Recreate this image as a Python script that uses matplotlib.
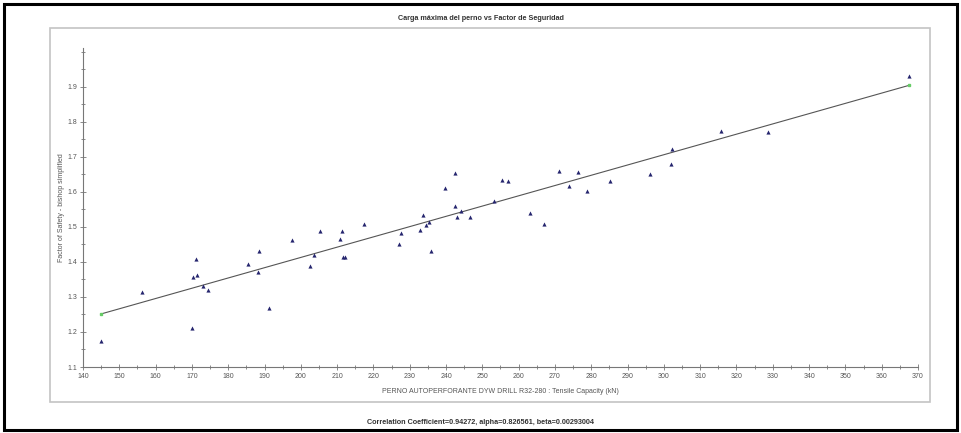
import numpy as np
import matplotlib
matplotlib.use("Agg")
import matplotlib.pyplot as plt
from matplotlib.patches import Rectangle
from matplotlib.ticker import MultipleLocator

# Bolt tensile capacity (kN) and factor of safety for each realisation
capacity = [145.0, 156.2, 170.0, 171.0, 170.3, 171.4, 173.0, 174.3, 185.4, 188.4,
            188.3, 191.2, 197.7, 202.4, 203.7, 205.3, 210.8, 211.3, 211.6, 212.3,
            217.3, 227.1, 227.7, 232.8, 233.7, 234.5, 235.2, 235.8, 239.8, 242.4,
            242.6, 243.0, 244.2, 246.5, 253.2, 255.3, 257.0, 263.0, 267.1, 271.1,
            273.8, 276.4, 278.7, 285.1, 296.3, 301.9, 302.3, 315.8, 328.8, 367.4]
safety = [1.175, 1.313, 1.210, 1.408, 1.356, 1.362, 1.331, 1.319, 1.393, 1.430,
          1.370, 1.269, 1.462, 1.388, 1.420, 1.487, 1.464, 1.487, 1.414, 1.414,
          1.509, 1.451, 1.481, 1.492, 1.534, 1.504, 1.513, 1.430, 1.612, 1.652,
          1.560, 1.528, 1.544, 1.527, 1.573, 1.634, 1.631, 1.538, 1.509, 1.660,
          1.616, 1.657, 1.601, 1.632, 1.650, 1.680, 1.721, 1.774, 1.771, 1.930]

# Regression results
corr_coef = 0.94272
alpha = 0.826561
beta = 0.00293004

title = "Carga máxima del perno vs Factor de Seguridad"
xlabel = "PERNO AUTOPERFORANTE DYW DRILL R32-280 : Tensile Capacity (kN)"
ylabel = "Factor of Safety - bishop simplified"
footer = f"Correlation Coefficient={corr_coef}, alpha={alpha}, beta={beta}"

plt.rcParams["font.family"] = ["Liberation Sans", "DejaVu Sans"]

W, H = 961, 433
fig = plt.figure(figsize=(W / 100, H / 100), dpi=100)
fig.patch.set_facecolor("white")


def fx(px):
    return px / W


def fy(py):
    return 1 - py / H


# Outer frame
fig.add_artist(Rectangle((fx(4), fy(430)), fx(953), (426) / H, transform=fig.transFigure,
                         fill=False, edgecolor="black", lw=2.2))
# Inner chart panel
fig.add_artist(Rectangle((fx(50), fy(402)), fx(880), (374) / H, transform=fig.transFigure,
                         fill=False, edgecolor="#c4c4c4", lw=1.2))

fig.text(0.5, fy(18), title, ha="center", va="center", fontsize=5.2,
         fontweight="bold", color="#333333")
fig.text(0.5, fy(422), footer, ha="center", va="center", fontsize=5.2,
         fontweight="bold", color="#333333")

ax = fig.add_axes([fx(83), fy(367), fx(835), (367 - 48) / H])
ax.set_xlim(140, 370)
ax.set_ylim(1.1, 2.01)

for side in ("top", "right"):
    ax.spines[side].set_visible(False)
for side in ("left", "bottom"):
    ax.spines[side].set_color("#777777")
    ax.spines[side].set_linewidth(0.8)

ax.xaxis.set_major_locator(MultipleLocator(10))
ax.xaxis.set_minor_locator(MultipleLocator(5))
ax.yaxis.set_minor_locator(MultipleLocator(0.05))
ax.set_yticks(np.round(np.arange(1.1, 1.95, 0.1), 1))
ax.tick_params(which="major", direction="inout", length=4, width=0.6,
               colors="#777777", labelsize=5, labelcolor="#555555", pad=2)
ax.tick_params(which="minor", direction="inout", length=3, width=0.6,
               colors="#777777")

ax.set_xlabel(xlabel, fontsize=5, color="#555555", labelpad=6)
ax.set_ylabel(ylabel, fontsize=5, color="#555555", labelpad=1.5)

# Fitted line between the extreme capacities
x_fit = np.array([min(capacity), max(capacity)])
y_fit = alpha + beta * x_fit
ax.plot(x_fit, y_fit, color="#555555", lw=0.8, zorder=2)
ax.plot(x_fit, y_fit, ls="none", marker="s", ms=1.6, color="#66cc66", zorder=3)

ax.scatter(capacity, safety, marker="^", s=9, color="#25256e", linewidths=0,
           zorder=4, clip_on=False)

fig.savefig("out.png", dpi=100, facecolor="white")
